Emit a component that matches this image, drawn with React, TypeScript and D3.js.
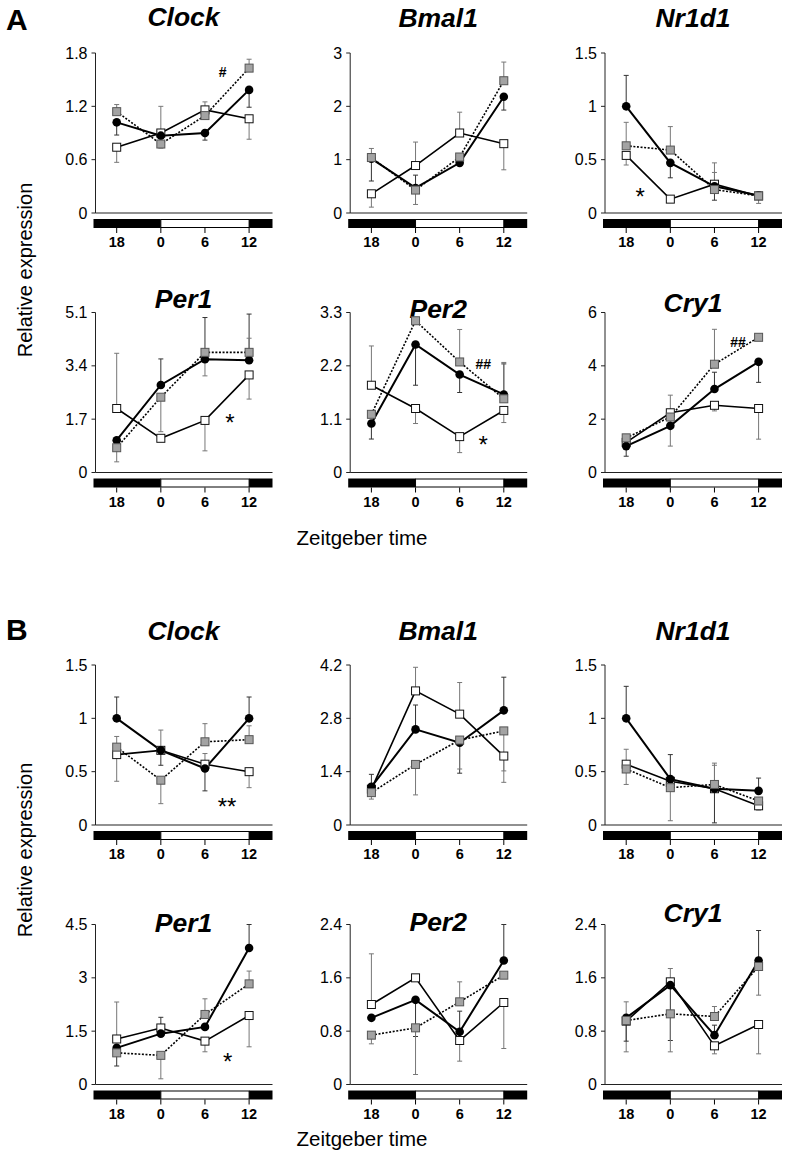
import React from "react";
import * as d3 from "d3";

// ---------- data ----------
const ztLabels = ["18", "0", "6", "12"];
const ztHours = [-6, 0, 6, 12];
const seriesNames = ["control", "gray", "white"]; // black circle, grey square, white square

// Section A
const aClockTicks = [0, 0.6, 1.2, 1.8];
const aClockMeans = [[1.02, 0.87, 0.9, 1.385], [1.14, 0.776, 1.096, 1.63], [0.74, 0.9, 1.16, 1.06]];
const aClockErrs = [[0.877, null, 0.82, 1.19], [1.22, 0.73, 1.25, 1.73], [0.57, 1.2, null, 0.83]];

const aBmal1Ticks = [0, 1, 2, 3];
const aBmal1Means = [[1.02, 0.47, 0.94, 2.18], [1.04, 0.43, 1.05, 2.48], [0.36, 0.89, 1.5, 1.3]];
const aBmal1Errs = [[0.6, 0.71, null, 1.93], [1.21, 0.16, null, 2.83], [0.11, 1.33, 1.89, 0.81]];

const aNr1d1Ticks = [0, 0.5, 1, 1.5];
const aNr1d1Means = [[1.0, 0.47, 0.25, 0.165], [0.63, 0.59, 0.22, 0.16], [0.54, 0.13, 0.27, 0.16]];
const aNr1d1Errs = [[1.29, 0.33, 0.12, null], [0.85, 0.81, 0.38, 0.09], [0.45, null, 0.47, null]];

const aPer1Ticks = [0, 1.7, 3.4, 5.1];
const aPer1Means = [[1.03, 2.79, 3.61, 3.58], [0.79, 2.4, 3.83, 3.83], [2.04, 1.09, 1.66, 3.11]];
const aPer1Errs = [[null, 3.62, 4.94, 5.05], [0.34, 1.3, 3.08, 4.28], [3.8, null, 0.69, 2.34]];

const aPer2Ticks = [0, 1.1, 2.2, 3.3];
const aPer2Means = [[1.01, 2.64, 2.02, 1.61], [1.2, 3.13, 2.28, 1.52], [1.8, 1.32, 0.74, 1.28]];
const aPer2Errs = [[0.69, 1.8, 1.65, 2.24], [null, 3.2, 2.95, 2.27], [2.61, 1.01, 0.41, 1.03]];

const aCry1Ticks = [0, 2, 4, 6];
const aCry1Means = [[0.99, 1.75, 3.13, 4.15], [1.3, 2.08, 4.06, 5.07], [1.13, 2.24, 2.52, 2.4]];
const aCry1Errs = [[0.61, null, 3.76, 3.38], [null, 0.99, 5.37, null], [null, 2.9, 2.31, 1.25]];

// Section B
const bClockTicks = [0, 0.5, 1, 1.5];
const bClockMeans = [[1.0, 0.7, 0.53, 1.0], [0.73, 0.42, 0.78, 0.8], [0.66, 0.7, 0.57, 0.5]];
const bClockErrs = [[1.2, 0.56, 0.32, 1.2], [0.83, 0.2, 0.95, 0.93], [0.41, 0.89, 0.67, 0.35]];

const bBmal1Ticks = [0, 1.4, 2.8, 4.2];
const bBmal1Means = [[1.0, 2.51, 2.16, 3.01], [0.85, 1.59, 2.23, 2.47], [0.94, 3.52, 2.91, 1.81]];
const bBmal1Errs = [[1.33, 3.15, 1.36, 3.88], [0.68, 0.79, 1.47, 1.12], [null, 4.14, 3.74, 1.42]];

const bNr1d1Ticks = [0, 0.5, 1, 1.5];
const bNr1d1Means = [[1.0, 0.43, 0.34, 0.32], [0.525, 0.35, 0.38, 0.225], [0.57, 0.41, 0.34, 0.18]];
const bNr1d1Errs = [[1.3, 0.66, 0.02, 0.44], [0.38, 0.04, 0.58, 0.14], [0.71, null, 0.56, null]];

const bPer1Ticks = [0, 1.5, 3, 4.5];
const bPer1Means = [[1.03, 1.43, 1.62, 3.84], [0.89, 0.82, 1.97, 2.83], [1.28, 1.59, 1.22, 1.94]];
const bPer1Errs = [[0.52, 1.89, null, 4.5], [null, 0.16, 2.41, 3.19], [2.32, null, 0.92, 1.06]];

const bPer2Ticks = [0, 0.8, 1.6, 2.4];
const bPer2Means = [[1.0, 1.27, 0.79, 1.86], [0.74, 0.85, 1.24, 1.64], [1.2, 1.6, 0.66, 1.23]];
const bPer2Errs = [[null, 0.72, 1.1, 2.4], [0.61, 0.15, 1.54, null], [1.96, null, 0.35, 0.54]];

const bCry1Ticks = [0, 0.8, 1.6, 2.4];
const bCry1Means = [[1.0, 1.49, 0.74, 1.86], [0.96, 1.06, 1.02, 1.77], [0.95, 1.54, 0.58, 0.9]];
const bCry1Errs = [[0.65, 0.66, 0.89, 2.31], [1.24, 0.49, 1.17, 1.34], [0.49, 1.74, 0.46, 0.46]];

// significance marks: [text, hour, value]
const aClockMarks: [string, number, number][] = [["#", 8.4, 1.53]];
const aNr1d1Marks: [string, number, number][] = [["*", -4.1, 0.075]];
const aPer1Marks: [string, number, number][] = [["*", 9.4, 1.32]];
const aPer2Marks: [string, number, number][] = [["##", 9.2, 2.13], ["*", 9.2, 0.4]];
const aCry1Marks: [string, number, number][] = [["##", 9.2, 4.7]];
const bClockMarks: [string, number, number][] = [["**", 9.0, 0.094]];
const bPer1Marks: [string, number, number][] = [["*", 9.1, 0.41]];

// ---------- layout ----------
const W = 787, H = 1166;
const colX = [95.5, 350.2, 605];
const rowZero = [213, 472.5, 825, 1084.5];
const plotH = 160;
const axisW = 177;
const FONT = "'Liberation Sans', Arial, Helvetica, sans-serif";

const panels = [
  { gene: "Clock", row: 0, col: 0, ticks: aClockTicks, means: aClockMeans, errs: aClockErrs, marks: aClockMarks, titleY: 26 },
  { gene: "Bmal1", row: 0, col: 1, ticks: aBmal1Ticks, means: aBmal1Means, errs: aBmal1Errs, marks: [], titleY: 27 },
  { gene: "Nr1d1", row: 0, col: 2, ticks: aNr1d1Ticks, means: aNr1d1Means, errs: aNr1d1Errs, marks: aNr1d1Marks, titleY: 27 },
  { gene: "Per1", row: 1, col: 0, ticks: aPer1Ticks, means: aPer1Means, errs: aPer1Errs, marks: aPer1Marks, titleY: 308 },
  { gene: "Per2", row: 1, col: 1, ticks: aPer2Ticks, means: aPer2Means, errs: aPer2Errs, marks: aPer2Marks, titleY: 318 },
  { gene: "Cry1", row: 1, col: 2, ticks: aCry1Ticks, means: aCry1Means, errs: aCry1Errs, marks: aCry1Marks, titleY: 312 },
  { gene: "Clock", row: 2, col: 0, ticks: bClockTicks, means: bClockMeans, errs: bClockErrs, marks: bClockMarks, titleY: 640 },
  { gene: "Bmal1", row: 2, col: 1, ticks: bBmal1Ticks, means: bBmal1Means, errs: bBmal1Errs, marks: [], titleY: 640 },
  { gene: "Nr1d1", row: 2, col: 2, ticks: bNr1d1Ticks, means: bNr1d1Means, errs: bNr1d1Errs, marks: [], titleY: 640 },
  { gene: "Per1", row: 3, col: 0, ticks: bPer1Ticks, means: bPer1Means, errs: bPer1Errs, marks: bPer1Marks, titleY: 932 },
  { gene: "Per2", row: 3, col: 1, ticks: bPer2Ticks, means: bPer2Means, errs: bPer2Errs, marks: [], titleY: 931 },
  { gene: "Cry1", row: 3, col: 2, ticks: bCry1Ticks, means: bCry1Means, errs: bCry1Errs, marks: [], titleY: 922 },
];

const fmt = (v: number) => (v === 0 ? "0" : String(v));

function Panel({ p }: { p: (typeof panels)[number] }) {
  const ax = colX[p.col];
  const y0 = rowZero[p.row];
  const x = d3.scaleLinear().domain([-6, 12]).range([ax + 21.2, ax + 153.6]);
  const y = d3.scaleLinear().domain([0, p.ticks[p.ticks.length - 1]]).range([y0, y0 - plotH]);
  const line = d3.line<number>().x((_, i) => x(ztHours[i])).y((d) => y(d));
  const barTop = y0 + 6, barH = 9;
  const barStart = ax - 2, barEnd = ax + axisW;
  const order = [2, 0, 1]; // draw white, then black, then grey on top
  const sq = 8;
  return (
    <g>
      <text x={ax + 88} y={p.titleY} textAnchor="middle" fontFamily={FONT} fontWeight="bold" fontStyle="italic" fontSize={26.5}>
        {p.gene}
      </text>
      {/* y axis */}
      <line x1={ax} x2={ax} y1={y0} y2={y0 - plotH} stroke="#222" strokeWidth={1} />
      {p.ticks.map((t) => (
        <g key={t}>
          <line x1={ax - 4} x2={ax} y1={y(t)} y2={y(t)} stroke="#222" strokeWidth={1} />
          <text x={ax - 8} y={y(t) + 5.5} textAnchor="end" fontFamily={FONT} fontSize={16}>
            {fmt(t)}
          </text>
        </g>
      ))}
      {/* x axis */}
      <line x1={ax} x2={barEnd} y1={y0} y2={y0} stroke="#222" strokeWidth={1.2} />
      {/* light/dark bar */}
      <rect x={barStart} y={barTop} width={x(0) - barStart} height={barH} fill="#000" />
      <rect x={x(0)} y={barTop + 0.5} width={x(12) - x(0)} height={barH - 1} fill="#fff" stroke="#000" strokeWidth={1} />
      <rect x={x(12)} y={barTop} width={barEnd - x(12)} height={barH} fill="#000" />
      {ztHours.map((h, i) => (
        <g key={h}>
          <line x1={x(h)} x2={x(h)} y1={barTop + barH} y2={barTop + barH + 5} stroke="#000" strokeWidth={1} />
          <text x={x(h)} y={y0 + 34} textAnchor="middle" fontFamily={FONT} fontWeight="bold" fontSize={14.5}>
            {ztLabels[i]}
          </text>
        </g>
      ))}
      {/* error bars */}
      {order.map((s) =>
        p.errs[s].map((e, i) =>
          e == null ? null : (
            <g key={`e${s}-${i}`} stroke={s === 0 ? "#333" : "#777"} strokeWidth={1}>
              <line x1={x(ztHours[i])} x2={x(ztHours[i])} y1={y(p.means[s][i])} y2={y(e)} />
              <line x1={x(ztHours[i]) - 2.5} x2={x(ztHours[i]) + 2.5} y1={y(e)} y2={y(e)} />
            </g>
          )
        )
      )}
      {/* lines */}
      <path d={line(p.means[2]) || ""} fill="none" stroke="#000" strokeWidth={1.6} />
      <path d={line(p.means[0]) || ""} fill="none" stroke="#000" strokeWidth={2} />
      <path d={line(p.means[1]) || ""} fill="none" stroke="#000" strokeWidth={1.6} strokeDasharray="2,1.6" />
      {/* markers */}
      {order.map((s) =>
        p.means[s].map((v, i) =>
          s === 0 ? (
            <circle key={`m${s}-${i}`} cx={x(ztHours[i])} cy={y(v)} r={4.3} fill="#000" />
          ) : (
            <rect
              key={`m${s}-${i}`}
              x={x(ztHours[i]) - sq / 2}
              y={y(v) - sq / 2}
              width={sq}
              height={sq}
              fill={s === 1 ? "#a3a3a3" : "#fff"}
              stroke={s === 1 ? "#555" : "#111"}
              strokeWidth={1}
            />
          )
        )
      )}
      {p.marks.map(([t, h, v], k) => (
        <text
          key={`k${k}`}
          x={x(h)}
          y={y(v)}
          textAnchor="middle"
          fontFamily={FONT}
          fontWeight={t.startsWith("#") ? "bold" : "normal"}
          fontSize={t.startsWith("#") ? 14 : 24}
        >
          {t}
        </text>
      ))}
    </g>
  );
}

export default function App() {
  return (
    <div style={{ position: "absolute", left: 0, top: 0 }}>
      <svg width={W} height={H} viewBox={`0 0 ${W} ${H}`} style={{ display: "block", background: "#fff" }}>
        <rect width={W} height={H} fill="#fff" />
        <text x={6} y={30} fontFamily={FONT} fontWeight="bold" fontSize={30}>A</text>
        <text x={6} y={640} fontFamily={FONT} fontWeight="bold" fontSize={30}>B</text>
        <text transform="translate(32,270) rotate(-90)" textAnchor="middle" fontFamily={FONT} fontSize={20}>
          Relative expression
        </text>
        <text transform="translate(32,850) rotate(-90)" textAnchor="middle" fontFamily={FONT} fontSize={20}>
          Relative expression
        </text>
        <text x={362} y={545} textAnchor="middle" fontFamily={FONT} fontSize={20.5}>Zeitgeber time</text>
        <text x={362} y={1146} textAnchor="middle" fontFamily={FONT} fontSize={20.5}>Zeitgeber time</text>
        {panels.map((p, i) => (
          <Panel key={i} p={p} />
        ))}
      </svg>
    </div>
  );
}
